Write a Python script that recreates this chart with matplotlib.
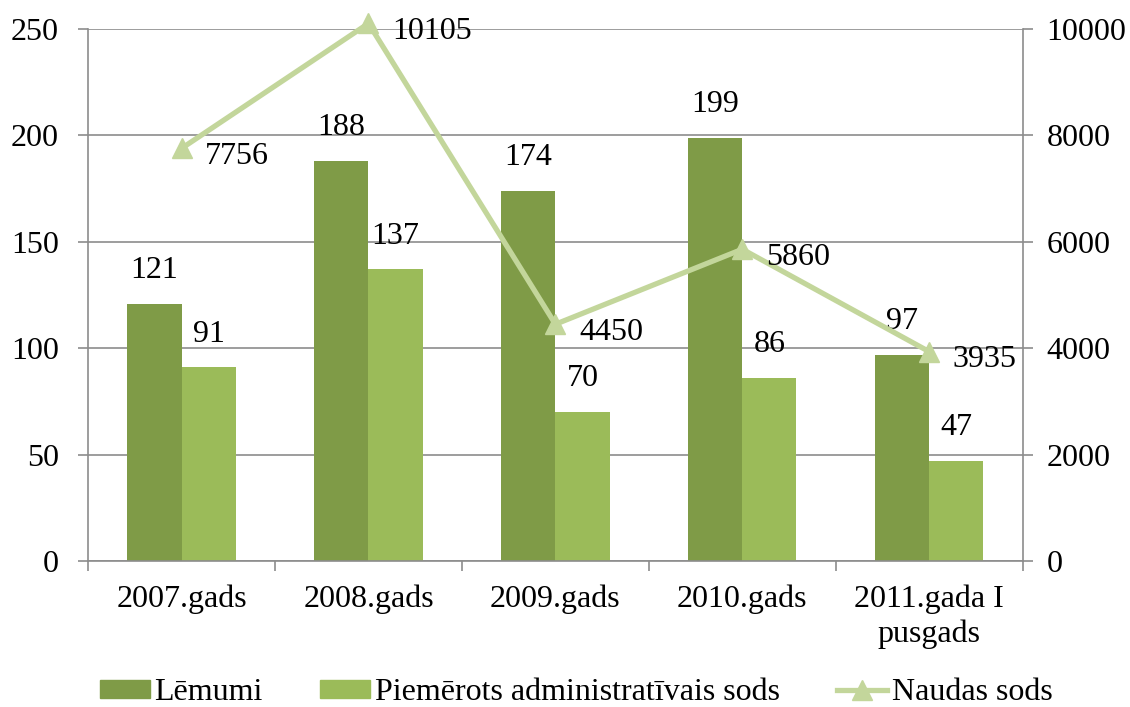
import numpy as np
import matplotlib.pyplot as plt
from matplotlib.lines import Line2D
from matplotlib.patches import Patch

plt.rcParams['font.family'] = ['Liberation Serif', 'DejaVu Serif']
plt.rcParams['font.size'] = 23

categories = ['2007.gads', '2008.gads', '2009.gads', '2010.gads', '2011.gada I\npusgads']
lemumi = [121, 188, 174, 199, 97]
sods = [91, 137, 70, 86, 47]
naudas = [7756, 10105, 4450, 5860, 3935]

c_dark = '#7F9B47'
c_light = '#9BBB59'
c_line = '#C3D69B'
c_grid = '#8C8C8C'

fig = plt.figure(figsize=(11.3, 7.07), dpi=100)
ax = fig.add_axes([0.078, 0.2065, 0.827, 0.7525])
x = np.arange(len(categories))
w = 0.29

ax.bar(x - w / 2, lemumi, w, color=c_dark, zorder=2)
ax.bar(x + w / 2, sods, w, color=c_light, zorder=2)
for xi, v in zip(x, lemumi):
    ax.annotate(str(v), (xi - w / 2, v), xytext=(0, 24), textcoords='offset points',
                ha='center', va='center')
for xi, v in zip(x, sods):
    ax.annotate(str(v), (xi + w / 2, v), xytext=(0, 24), textcoords='offset points',
                ha='center', va='center')

ax.set_xlim(-0.5, len(categories) - 0.5)
ax.set_ylim(0, 250)
ax.set_yticks(range(0, 251, 50))
ax.yaxis.grid(True, color=c_grid, lw=1.2, zorder=0)
ax.set_xticks(x)
ax.set_xticklabels(categories, linespacing=1.25)
ax.tick_params(axis='x', length=0, pad=17)
ax.set_xticks(np.arange(-0.5, len(categories)), minor=True)
ax.tick_params(axis='x', which='minor', length=7, color=c_grid, width=1.2)
ax.tick_params(axis='y', length=7, color=c_grid, width=1.2, pad=14)
for s in ['top', 'right']:
    ax.spines[s].set_visible(False)
for s in ['left', 'bottom']:
    ax.spines[s].set_color(c_grid)
    ax.spines[s].set_linewidth(1.2)

ax2 = ax.twinx()
ax2.plot(x, naudas, color=c_line, lw=3.8, marker='^', markersize=15, zorder=3, clip_on=False)
for xi, v in zip(x, naudas):
    ax2.annotate(str(v), (xi, v), xytext=(17, -6), textcoords='offset points',
                 ha='left', va='center', annotation_clip=False)
ax2.set_ylim(0, 10000)
ax2.set_yticks(range(0, 10001, 2000))
ax2.tick_params(axis='y', length=7, color=c_grid, width=1.2, pad=10)
for s in ['top', 'left', 'bottom']:
    ax2.spines[s].set_visible(False)
ax2.spines['right'].set_color(c_grid)
ax2.spines['right'].set_linewidth(1.2)

handles = [Patch(color=c_dark), Patch(color=c_light),
           Line2D([], [], color=c_line, lw=3.8, marker='^', markersize=15)]
labels = ['Lēmumi', 'Piemērots administratīvais sods', 'Naudas sods']
fig.legend(handles, labels, loc='center', bbox_to_anchor=(0.51, 0.02), ncol=3,
           frameon=False, handlelength=1.56, handleheight=0.5, handletextpad=0.15,
           columnspacing=1.8, borderpad=0)

fig.savefig('out.png', dpi=100)
